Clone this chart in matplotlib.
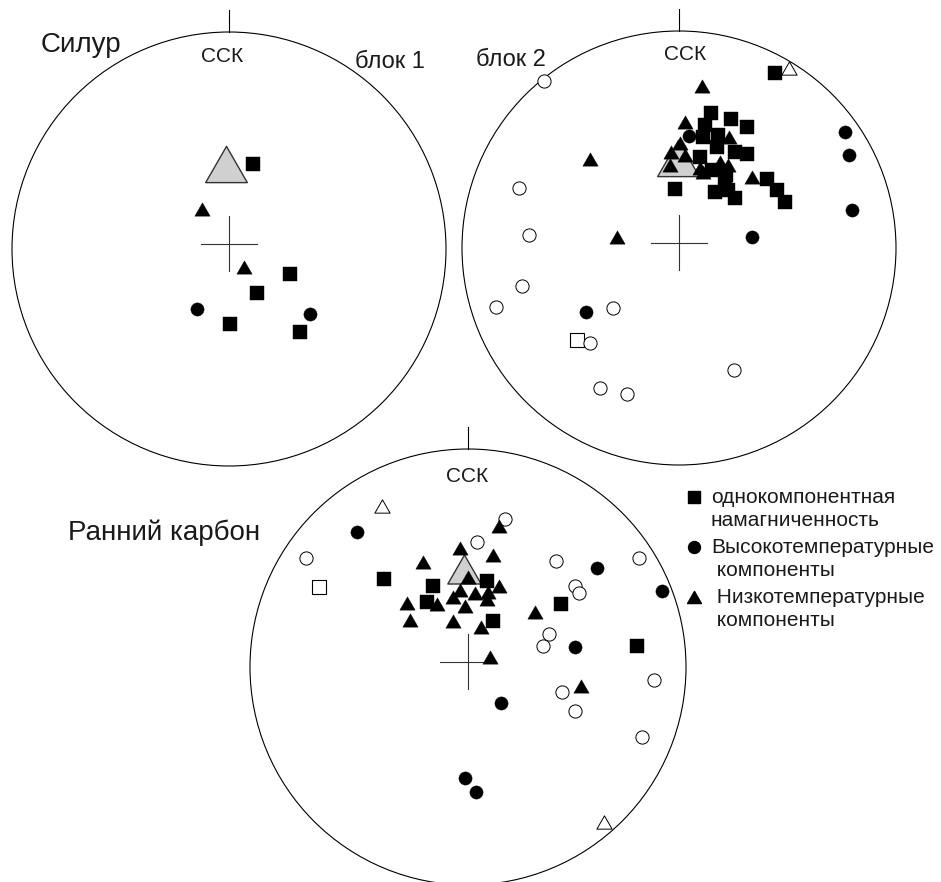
import numpy as np
import matplotlib
matplotlib.use('Agg')
import matplotlib.pyplot as plt
from matplotlib.patches import Circle
from matplotlib.path import Path

plt.rcParams['font.family'] = ['Liberation Sans', 'DejaVu Sans']

# net coordinates: x = east, y = north, unit circle = primitive
# --- Silurian, block 1
s1_mean = [(-0.014, 0.391)]
s1_squares = [(0.109, 0.392), (0.280, -0.115), (0.129, -0.204), (0.003, -0.347), (0.327, -0.381)]
s1_triangles = [(-0.126, 0.184), (0.069, -0.082)]
s1_circles = [(-0.146, -0.278), (0.373, -0.301)]

# --- Silurian, block 2
s2_mean = [(-0.005, 0.415)]
s2_squares = [(0.444, 0.808), (0.146, 0.624), (0.238, 0.593), (0.315, 0.559), (0.120, 0.567),
              (0.112, 0.513), (0.181, 0.521), (0.174, 0.467), (0.258, 0.444), (0.312, 0.433),
              (0.097, 0.421), (0.151, 0.359), (0.217, 0.336), (0.407, 0.317), (-0.018, 0.271),
              (0.166, 0.259), (0.227, 0.267), (0.450, 0.267), (0.258, 0.229), (0.488, 0.213),
              (0.212, 0.306)]
s2_open_squares = [(-0.471, -0.424)]
s2_circles = [(0.047, 0.518), (0.765, 0.536), (0.783, 0.429), (0.796, 0.175), (0.335, 0.052),
              (-0.430, -0.296)]
s2_open_circles = [(-0.622, 0.771), (-0.737, 0.278), (-0.691, 0.059), (-0.725, -0.174),
                   (-0.843, -0.273), (-0.306, -0.278), (-0.410, -0.439), (0.255, -0.562),
                   (-0.363, -0.647), (-0.241, -0.673)]
s2_triangles = [(0.107, 0.747), (0.028, 0.582), (0.232, 0.513), (0.005, 0.485), (-0.038, 0.444),
                (0.028, 0.429), (-0.041, 0.382), (0.189, 0.398), (0.227, 0.382), (0.097, 0.367),
                (0.112, 0.352), (0.335, 0.326), (-0.410, 0.409), (-0.287, 0.049)]
s2_open_triangles = [(0.506, 0.828)]

# --- Early Carboniferous
c_mean = [(-0.018, 0.450)]
c_squares = [(-0.385, 0.404), (-0.159, 0.373), (0.086, 0.394), (-0.189, 0.297), (0.116, 0.211),
             (0.425, 0.289), (0.774, 0.096)]
c_open_squares = [(-0.685, 0.366)]
c_circles = [(-0.511, 0.621), (0.593, 0.453), (0.889, 0.350), (0.492, 0.090), (0.153, -0.164),
             (-0.014, -0.511), (0.037, -0.572)]
c_open_circles = [(-0.743, 0.499), (0.170, 0.678), (0.041, 0.575), (0.404, 0.486), (0.784, 0.501),
                  (0.491, 0.372), (0.509, 0.338), (0.372, 0.150), (0.343, 0.098), (0.852, -0.060),
                  (0.433, -0.116), (0.489, -0.200), (0.800, -0.320)]
c_triangles = [(0.142, 0.647), (-0.037, 0.545), (0.116, 0.514), (-0.206, 0.480), (-0.001, 0.414),
               (0.144, 0.373), (-0.037, 0.353), (0.032, 0.338), (0.093, 0.345), (-0.067, 0.322),
               (0.086, 0.311), (-0.281, 0.292), (-0.144, 0.289), (-0.014, 0.280), (-0.266, 0.216),
               (-0.067, 0.212), (0.060, 0.185), (0.101, 0.047), (0.309, 0.251), (0.517, -0.086)]
c_open_triangles = [(-0.396, 0.739), (0.625, -0.712)]

legend_lines = [['однокомпонентная', 'намагниченность'],
                ['Высокотемпературные', ' компоненты'],
                [' Низкотемпературные', ' компоненты']]

W, H = 941, 882
tri = Path([(-1, -0.87), (1, -0.87), (0, 0.87), (-1, -0.87)], closed=True)
ink = '#1a1a1a'

fig = plt.figure(figsize=(W / 100, H / 100), dpi=100)


def make_net(cx, cy, r):
    pad = 1.15
    ax = fig.add_axes([(cx - pad * r) / W, (H - cy - pad * r) / H, 2 * pad * r / W, 2 * pad * r / H])
    ax.set_xlim(-pad, pad)
    ax.set_ylim(-pad, pad)
    ax.axis('off')
    ax.add_patch(Circle((0, 0), 1, fill=False, ec='black', lw=0.8, clip_on=False))
    ax.plot([0, 0], [1, 1.1], color='black', lw=0.8, clip_on=False)
    ax.plot([-0.13, 0.13], [0.025, 0.025], color='#333333', lw=0.8)
    ax.plot([0, 0], [-0.1, 0.15], color='#333333', lw=0.8)
    return ax


def pts(ax, data, marker, ms, fc, ec='black', mew=0.8):
    if not data:
        return
    xs, ys = zip(*data)
    ax.plot(xs, ys, ls='none', marker=marker, ms=ms, mfc=fc, mec=ec, mew=mew)


def draw(ax, mean, mean_ms, sq=(), osq=(), ci=(), oci=(), tr=(), otr=()):
    pts(ax, list(mean), tri, mean_ms, '#d0d0d0', ec='#333333', mew=1.0)
    pts(ax, list(osq), 's', 10, 'white')
    pts(ax, list(oci), 'o', 9.5, 'white', mew=0.7)
    pts(ax, list(otr), tri, 11, 'white', mew=0.7)
    pts(ax, list(sq), 's', 10, 'black', mew=0.3)
    pts(ax, list(ci), 'o', 9.5, 'black', mew=0.3)
    pts(ax, list(tr), tri, 11, 'black', mew=0.3)


ax1 = make_net(229, 249, 217)
draw(ax1, s1_mean, 30, sq=s1_squares, ci=s1_circles, tr=s1_triangles)

ax2 = make_net(679, 248, 217)
draw(ax2, s2_mean, 30, sq=s2_squares, osq=s2_open_squares, ci=s2_circles,
     oci=s2_open_circles, tr=s2_triangles, otr=s2_open_triangles)

ax3 = make_net(468, 667, 218)
draw(ax3, c_mean, 24, sq=c_squares, osq=c_open_squares, ci=c_circles,
     oci=c_open_circles, tr=c_triangles, otr=c_open_triangles)

# overlay in pixel coordinates for labels and the key
ov = fig.add_axes([0, 0, 1, 1])
ov.set_xlim(0, W)
ov.set_ylim(H, 0)
ov.axis('off')

ov.text(41, 52.5, 'Силур', fontsize=20, va='baseline', ha='left', color=ink)
ov.text(222, 62.5, 'ССК', fontsize=15, va='baseline', ha='center', color=ink)
ov.text(355, 68, 'блок 1', fontsize=17, va='baseline', ha='left', color=ink)
ov.text(476, 66.5, 'блок 2', fontsize=17, va='baseline', ha='left', color=ink)
ov.text(685, 60, 'ССК', fontsize=15, va='baseline', ha='center', color=ink)
ov.text(467, 482, 'ССК', fontsize=15, va='baseline', ha='center', color=ink)
ov.text(68, 540, 'Ранний карбон', fontsize=20, va='baseline', ha='left', color=ink)

key_markers = [('s', 8), ('o', 8.6), (tri, 10)]
key_y = [497, 547, 597]
for (mk, ms), y, lines in zip(key_markers, key_y, legend_lines):
    ov.plot([694], [y], ls='none', marker=mk, ms=ms, mfc='black', mec='black')
    ov.text(711, y + 6, lines[0], fontsize=15, va='baseline', ha='left', color=ink)
    ov.text(711, y + 29, lines[1], fontsize=15, va='baseline', ha='left', color=ink)

fig.savefig('out.png', dpi=100, facecolor='white')
